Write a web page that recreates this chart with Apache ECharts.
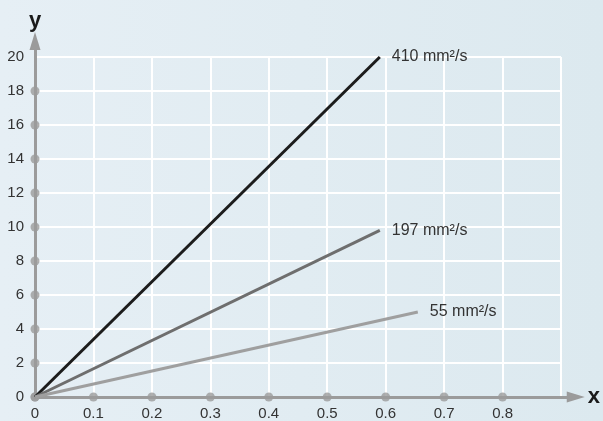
<!DOCTYPE html>
<html>
<head>
<meta charset="utf-8">
<script src="https://cdn.jsdelivr.net/npm/echarts@6/dist/echarts.min.js"></script>
<style>
  html, body { margin: 0; padding: 0; }
  #chart { width: 603px; height: 421px; }
</style>
</head>
<body>
<div id="chart"></div>
<script>
  var lineNames = ['410 mm²/s', '197 mm²/s', '55 mm²/s'];
  var lineEndX = [0.59, 0.59, 0.655];
  var lineEndY = [20, 9.8, 5];
  var lineColors = ['#1c1c1c', '#6e6e6e', '#9f9f9f'];

  var xTicks = [0, 0.1, 0.2, 0.3, 0.4, 0.5, 0.6, 0.7, 0.8];
  var xLabels = ['0', '0.1', '0.2', '0.3', '0.4', '0.5', '0.6', '0.7', '0.8'];
  var yTicks = [0, 2, 4, 6, 8, 10, 12, 14, 16, 18];

  var font = "'Liberation Sans', Arial, sans-serif";
  var axisGray = '#9b9b9b';

  var myChart = echarts.init(document.getElementById('chart'));

  var series = lineNames.map(function (name, i) {
    return {
      name: name,
      type: 'line',
      xAxisIndex: 0,
      yAxisIndex: 0,
      data: [[0, 0], [lineEndX[i], lineEndY[i]]],
      symbol: 'none',
      clip: false,
      z: 5,
      lineStyle: { color: lineColors[i], width: 3 },
      endLabel: {
        show: true,
        formatter: '{a}',
        distance: 12,
        color: '#333',
        fontSize: 16,
        fontFamily: font
      }
    };
  });

  // dots on the axes at each tick
  var dots = [];
  xTicks.forEach(function (x) { dots.push([x, 0]); });
  yTicks.forEach(function (y) { dots.push([0, y]); });
  series.push({
    type: 'scatter',
    xAxisIndex: 0,
    yAxisIndex: 0,
    data: dots,
    symbolSize: 9,
    clip: false,
    silent: true,
    z: 4,
    itemStyle: { color: axisGray }
  });

  myChart.setOption({
    animation: false,
    backgroundColor: {
      type: 'linear', x: 0, y: 0, x2: 1, y2: 0,
      colorStops: [{ offset: 0, color: '#e6eff5' }, { offset: 1, color: '#dce9ef' }]
    },
    textStyle: { fontFamily: font },
    grid: [
      { left: 35, right: 42, top: 57, bottom: 24 },
      { left: 35, right: 27, top: 41, bottom: 24 }
    ],
    xAxis: [
      {
        type: 'value',
        gridIndex: 0,
        min: 0,
        max: 0.9,
        interval: 0.1,
        axisLine: { show: false },
        axisTick: { show: false },
        splitLine: { show: true, lineStyle: { color: '#ffffff', width: 2 } },
        axisLabel: {
          margin: 9,
          color: '#333',
          fontSize: 15,
          formatter: function (v) {
            return xLabels[Math.round(v * 10)] || '';
          }
        }
      },
      {
        type: 'value',
        gridIndex: 1,
        min: 0,
        max: 1,
        name: 'x',
        nameLocation: 'end',
        nameGap: 12,
        nameTextStyle: { fontSize: 22, fontWeight: 'bold', color: '#1a1a1a' },
        axisLine: {
          show: true,
          onZero: false,
          symbol: ['none', 'triangle'],
          symbolSize: [11, 18],
          lineStyle: { color: axisGray, width: 3 }
        },
        axisTick: { show: false },
        axisLabel: { show: false },
        splitLine: { show: false }
      }
    ],
    yAxis: [
      {
        type: 'value',
        gridIndex: 0,
        min: 0,
        max: 20,
        interval: 2,
        axisLine: { show: false },
        axisTick: { show: false },
        splitLine: { show: true, lineStyle: { color: '#ffffff', width: 2 } },
        axisLabel: { margin: 11, color: '#333', fontSize: 15 }
      },
      {
        type: 'value',
        gridIndex: 1,
        min: 0,
        max: 1,
        name: 'y',
        nameLocation: 'end',
        nameGap: 9,
        nameTextStyle: { fontSize: 22, fontWeight: 'bold', color: '#1a1a1a' },
        axisLine: {
          show: true,
          onZero: false,
          symbol: ['none', 'triangle'],
          symbolSize: [11, 18],
          lineStyle: { color: axisGray, width: 3 }
        },
        axisTick: { show: false },
        axisLabel: { show: false },
        splitLine: { show: false }
      }
    ],
    series: series
  });
</script>
</body>
</html>
